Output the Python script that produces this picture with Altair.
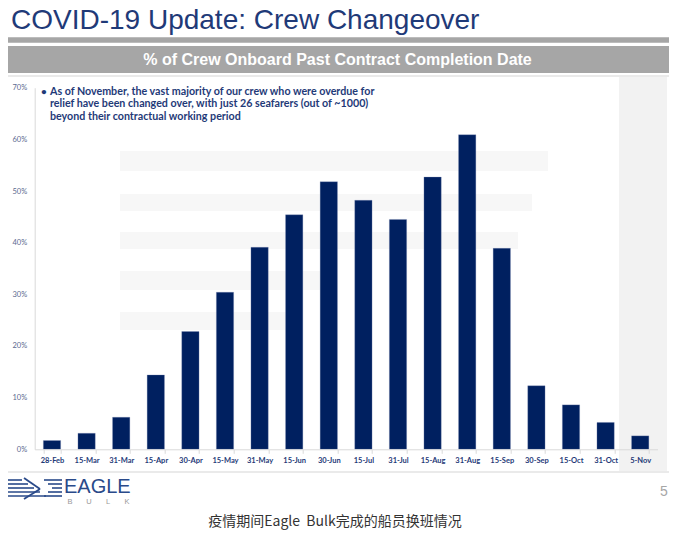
import altair as alt
import pandas as pd

# ---- data ----
dates = ["28-Feb", "15-Mar", "31-Mar", "15-Apr", "30-Apr", "15-May", "31-May",
         "15-Jun", "30-Jun", "15-Jul", "31-Jul", "15-Aug", "31-Aug", "15-Sep",
         "30-Sep", "15-Oct", "31-Oct", "5-Nov"]
pct = [1.7, 3.1, 6.2, 14.4, 22.8, 30.4, 39.1, 45.4, 51.8, 48.2, 44.5, 52.7,
       60.9, 38.9, 12.3, 8.6, 5.2, 2.6]
y_ticks = [0, 10, 20, 30, 40, 50, 60, 70]

title_text = "COVID-19 Update: Crew Changeover"
banner_text = "% of Crew Onboard Past Contract Completion Date"
note_lines = ["As of November, the vast majority of our crew who were overdue for",
              "relief have been changed over, with just 26 seafarers (out of ~1000)",
              "beyond their contractual working period"]
caption = "疫情期间Eagle\u00a0\u00a0Bulk完成的船员换班情况"
bulk_letters = ["B", "U", "L", "K"]

# ---- layout (page pixels) ----
X0, Y0, W, H = 34.7, 87.7, 622.8, 361.6
NAVY = "#002060"
TNAVY = "#1f3a78"


def px(x):
    return x - X0


def py(y):
    return y - Y0


one = pd.DataFrame({"k": [0]})


def rect(x1, y1, x2, y2, fill, stroke=None, sw=1):
    kw = dict(fill=fill)
    if stroke:
        kw.update(stroke=stroke, strokeWidth=sw)
    return alt.Chart(one).mark_rect(**kw).encode(
        x=alt.value(px(x1)), x2=alt.value(px(x2)),
        y=alt.value(py(y1)), y2=alt.value(py(y2)))


def rule(x1, y1, x2, y2, color, sw=1.5):
    return alt.Chart(one).mark_rule(color=color, strokeWidth=sw).encode(
        x=alt.value(px(x1)), x2=alt.value(px(x2)),
        y=alt.value(py(y1)), y2=alt.value(py(y2)))


def text(s, x, y, size, color, weight="normal", align="left",
         font="Liberation Sans", baseline="middle"):
    kw = dict(fontSize=size, color=color, fontWeight=weight, align=align,
              font=font, baseline=baseline)
    return alt.Chart(one).mark_text(**kw).encode(
        x=alt.value(px(x)), y=alt.value(py(y)), text=alt.value(s))


layers = []
# header
layers.append(text(title_text, 11, 29, 28, TNAVY, baseline="alphabetic"))
layers.append(rect(3, 37.3, 672, 42.7, "#a6a6a6"))
layers.append(rect(3, 46, 672, 73, "#a6a6a6"))
layers.append(text(banner_text, 337.5, 60, 16, "#ffffff", weight="bold", align="center"))
# panel
layers.append(rect(5, 76, 670, 472, "#ffffff", stroke="#e3e3e3", sw=1.5))
layers.append(rect(619, 77, 667, 471, "#f2f2f2"))
# watermark bands
WM = "#f7f7f7"
layers.append(rect(120, 151, 548, 171, WM))
layers.append(rect(120, 194, 532, 211, WM))
layers.append(rect(120, 232, 518, 249, WM))
layers.append(rect(120, 271, 330, 290, WM))
layers.append(rect(120, 312, 290, 330, WM))

# bars
df = pd.DataFrame({"date": dates, "pct": pct})
bars = alt.Chart(df).mark_bar(color=NAVY, stroke="#8090b8", strokeWidth=0.3).encode(
    x=alt.X("date:N", sort=dates,
            scale=alt.Scale(paddingInner=0.5, paddingOuter=0.25),
            axis=alt.Axis(labelAngle=0, labelFont="Lato", labelFontSize=7.5,
                          labelFontWeight="bold", labelColor=TNAVY,
                          tickBand="extent", tickColor="#d9d9d9", tickSize=4,
                          domainColor="#d9d9d9", labelPadding=3, title=None,
                          zindex=2)),
    y=alt.Y("pct:Q", scale=alt.Scale(domain=[0, 70], nice=False),
            axis=alt.Axis(values=y_ticks, labelExpr="datum.value + '%'",
                          grid=False, ticks=False, domainColor="#d9d9d9",
                          labelColor="#5b6a8f", labelFont="Lato",
                          labelFontSize=7.5, labelPadding=8, title=None,
                          zindex=2)),
)
layers.append(bars)

# note
layers.append(text("•", 41, 91.5, 10, TNAVY, weight="bold", font="Lato"))
for i, line in enumerate(note_lines):
    layers.append(text(line, 50, 91.7 + 12.5 * i, 10.7, TNAVY, weight="bold", font="Lato"))

# logo
LN = "#2a4a8a"
for i, (a, b) in enumerate([(5, 22), (5, 26), (5, 30), (5, 34), (5, 38)]):
    yy = 480 + 4 * i
    layers.append(rule(a, yy, b + (i * 2), yy, LN, sw=1.6))
layers.append(rule(24, 478, 40, 489, LN, sw=1.8))
layers.append(rule(40, 489, 24, 499, LN, sw=1.8))
for i, (a, b) in enumerate([(44, 62), (48, 62), (52, 62), (48, 62), (44, 62)]):
    yy = 480 + 4 * i
    layers.append(rule(a, yy, b, yy, LN, sw=1.6))
layers.append(text("EAGLE", 64, 493, 20, LN, font="Liberation Sans",
                   baseline="alphabetic"))
for i, ch in enumerate(bulk_letters):
    layers.append(text(ch, 70 + 19 * i, 502, 7.5, "#9a9a9a", align="center"))
layers.append(text("5", 664, 492, 14, "#a6a6a6", align="center"))
layers.append(text(caption, 335, 522, 14, "#333333", align="center",
                   font="Noto Sans CJK SC"))

chart = alt.layer(*layers).properties(
    width=W, height=H,
    autosize=alt.AutoSizeParams(type="none"),
    padding={"left": X0 - 8, "top": Y0 - 8, "right": 661 - (X0 - 8) - W,
             "bottom": 523 - (Y0 - 8) - H},
    background="#ffffff",
).configure_view(stroke=None)

chart.save("out.html", embed_options={"renderer": "svg", "actions": False})
